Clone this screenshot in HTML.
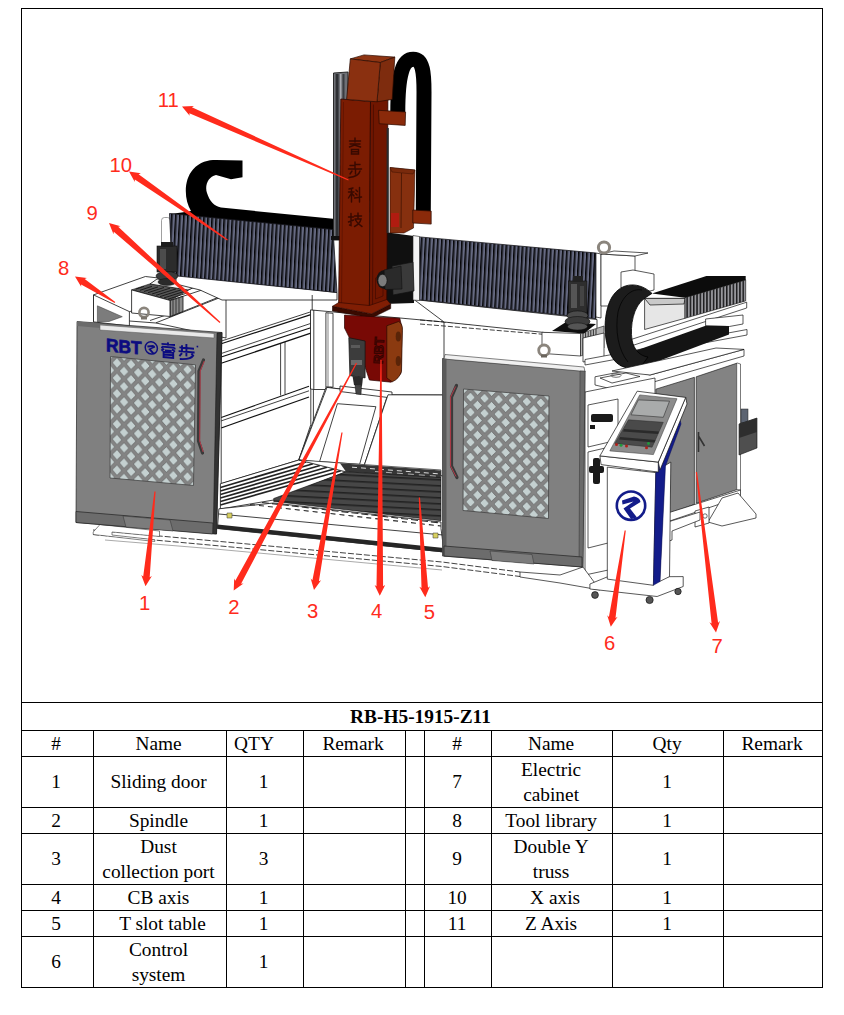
<!DOCTYPE html>
<html><head><meta charset="utf-8"><title>RB-H5-1915-Z11</title>
<style>
html,body{margin:0;padding:0;background:#fff;}
body{width:844px;height:1015px;position:relative;overflow:hidden;font-family:"Liberation Serif",serif;color:#000;}
.abs{position:absolute;left:0;top:0;}
.c{position:absolute;display:flex;align-items:center;justify-content:center;text-align:center;font-size:19.35px;line-height:25px;white-space:nowrap;}
.c span{display:block;position:relative;top:0px;}
.b{font-weight:bold;}
</style></head><body>
<svg class="abs" width="844" height="1015" viewBox="0 0 844 1015">
<defs>
<pattern id="bel" width="4.05" height="10" patternUnits="userSpaceOnUse" patternTransform="skewX(-3)"><rect width="4.05" height="10" fill="#666a82"/><rect x="0" width="1.45" height="10" fill="#050507"/><rect x="1.45" width="0.9" height="10" fill="#3a3c49"/></pattern>
<pattern id="belR" width="3.3" height="10" patternUnits="userSpaceOnUse"><rect width="3.3" height="10" fill="#97979c"/><rect x="0" width="1.5" height="10" fill="#1a1a1c"/></pattern>
<pattern id="dia" width="14.1" height="15.3" patternUnits="userSpaceOnUse" patternTransform="translate(117 363) skewY(5.5)">
 <rect width="14.1" height="15.3" fill="#848484"/>
 <path d="M7.05 2.45 L11.85 7.65 L7.05 12.850000000000001 L2.25 7.65Z M0 -5.2 L4.8 0 L0 5.2 L-4.8 0Z M14.1 -5.2 L18.9 0 L14.1 5.2 L9.3 0Z M0 10.100000000000001 L4.8 15.3 L0 20.5 L-4.8 15.3Z M14.1 10.100000000000001 L18.9 15.3 L14.1 20.5 L9.3 15.3Z " fill="#c4d0d0" stroke="#505050" stroke-width="0.6"/>
</pattern>
<pattern id="diaR" width="14.07" height="14.98" patternUnits="userSpaceOnUse" patternTransform="translate(470.5 397.2) skewY(4.6)">
 <rect width="14.07" height="14.98" fill="#848484"/>
 <path d="M7.035 2.3900000000000006 L11.835 7.49 L7.035 12.59 L2.2350000000000003 7.49Z M0 -5.1 L4.8 0 L0 5.1 L-4.8 0Z M14.07 -5.1 L18.87 0 L14.07 5.1 L9.27 0Z M0 9.88 L4.8 14.98 L0 20.08 L-4.8 14.98Z M14.07 9.88 L18.87 14.98 L14.07 20.08 L9.27 14.98Z " fill="#c4d0d0" stroke="#505050" stroke-width="0.6"/>
</pattern>
<pattern id="tslot" width="10" height="6" patternUnits="userSpaceOnUse" patternTransform="skewY(3)"><rect width="10" height="6" fill="#474747"/><rect y="0" width="10" height="1.6" fill="#222"/></pattern>
</defs>
<g id="frame" fill="#fff" stroke="#111" stroke-width="0.8" stroke-linejoin="round">
<!-- tool library big box (left top) -->
<polygon points="93.5,294.9 145.4,276.5 176,280 226,290 226,338 156,323 129.4,321 93.5,321.9"/>
<polygon points="93.5,294.9 129.4,311.6 129.4,326 93.5,321.9"/>
<polyline points="129.4,311.6 150,307" fill="none"/>
<polyline points="156,322.8 235,291.7" fill="none"/>
<polyline points="150,320.5 226,294.5" fill="none"/>
<polygon points="97.4,305.8 122.3,316.7 109,321.5 97.4,322" fill="#7c7c7c" stroke="#333" stroke-width="0.5"/>
<!-- inner tool magazine -->
<polygon points="131.6,289.9 154,282.5 192,288 170.3,300.5" fill="#555" stroke="#111" stroke-width="0.6"/>
<g stroke="#151515" stroke-width="0.9" fill="none"><path d="M136 289 l8 -2.6 M140 290.3 l12 -4 M144 291.5 l14 -4.6 M148 292.7 l16 -5.2 M152 294 l18 -5.8 M156 295.3 l20 -6.4 M160 296.6 l22 -7 M164 297.9 l22 -7 M168 299.2 l20 -6.5"/></g>
<polygon points="131.6,289.9 170.3,300.5 170.3,316.5 131.6,313"/>
<polygon points="170.3,300.5 223.6,282.8 223.6,295.2 170.3,316.5"/>
<polygon points="170.3,300.5 183,296.3 183,311.5 170.3,316.5" fill="#8a8a8a"/>
<g stroke="#222" stroke-width="0.8"><path d="M173 299.8 v15.6 M176 298.8 v15.4 M179 297.8 v15.2"/></g>
<polygon points="157,279 201,284.5 188,290 150,284" fill="#f4f4f4"/>
<!-- left Y beam lines (under X bellows) -->
<polygon points="176,274.5 337,292.5 337,300 222,300 200,290 176,284"/>
<!-- left wall beams -->
<polygon points="221.2,341.1 310.8,311.8 310.8,424.5 298.9,460 221.2,483.7"/>
<g fill="none" stroke="#111">
<polyline points="221.2,343.8 310.8,314.6" stroke-width="1.2"/>
<polyline points="221.2,353.5 310.8,323.4"/>
<polyline points="221.2,357 310.8,327.8" stroke-width="1.1"/>
<polyline points="221.2,363.3 310.8,333.1" stroke-width="1.2"/>
<polyline points="280.6,343.5 280.6,395.5"/><polyline points="285,342 285,394"/>
<polyline points="221.2,417.4 309,386.3" stroke-width="1.1"/>
<polyline points="221.2,420.9 309,390.8"/>
<polyline points="221.2,428 309,397" stroke-width="1.2"/>
<polyline points="313.4,312 313.4,424.5"/>
<polyline points="312.2,295 312.2,311.8"/>
</g>
<!-- back wall -->
<polygon points="310.5,309.9 444,322 444,395 388,394.8 327,387.4 325.4,389.5 313.8,389.5 310.5,389"/>
<polyline points="313.8,310 313.8,389.5" fill="none"/>
<polyline points="420,320 600,335" fill="none" stroke-dasharray="5 2"/>
<polyline points="420,324 600,339" fill="none" stroke-dasharray="5 2"/>
<polygon points="325.9,312.7 333,313.3 333,387.2 325.9,387.2"/><polyline points="328,313 328,387" fill="none" stroke="#333" stroke-width="0.6"/>
<!-- strut + chute -->
<polygon points="326,387.2 331.5,387.2 302.5,460.5 298.9,459.2"/>
<polygon points="327,387.4 387.7,394.8 364,465.9 298.9,460"/>
<polygon points="337.4,403.7 375.9,406.7 359.6,464.4 319.6,461.5"/>
<polygon points="340,386 392,392 392,398 340,391.5"/>
<!-- floor slats (left) -->
<polygon points="220.4,483.7 298.9,460 346,471.8 273.7,500 220.4,509"/>
<g fill="none" stroke-width="1.7" stroke="#222">
<polyline points="220.4,487.5 306,462"/><polyline points="220.4,491 313,463.8"/><polyline points="220.4,494.5 320,465.5"/><polyline points="220.4,498 327,467.3"/><polyline points="220.4,501.5 334,469"/><polyline points="220.4,505 341,470.7"/>
</g>
<!-- right interior wall -->
<polygon points="444,395 444,476 364,466 388,394.8"/>
<!-- T slot table -->
<polygon points="298.9,460 441,470 441,477.7 346,471.8" fill="#fff" stroke="#222" stroke-width="0.7"/>
<polygon points="340,463.2 441,470.6 441,478 346,471.8" fill="#363636" stroke="none"/>
<polyline points="352,467.2 441,474" fill="none" stroke="#ddd" stroke-width="1" stroke-dasharray="5 4"/>
<polyline points="375,471.5 441,476.5" fill="none" stroke="#ccc" stroke-width="0.8" stroke-dasharray="6 5"/>
<polygon points="346,471.8 441,477.7 441,520.7 273.7,501.4 273.7,498.5" fill="url(#tslot)" stroke="#111" stroke-width="0.6"/>
<!-- front rails -->

<polygon points="218.9,508.8 273.7,503 441,522 441,528.5 444,552 217.4,528.5"/>
<polyline points="218.9,514 443,535" fill="none"/>
<g id="hatchband" fill="none" stroke="#2a2a2a" stroke-width="1.1"><polyline points="262,502.5 441,523" stroke-dasharray="7 3"/><polyline points="250,504.5 441,526" stroke-dasharray="5 4"/></g>
<polygon points="217.4,524.4 444,548 444,552.4 217.4,528.8" fill="#262626" stroke="none"/>
<rect x="227" y="513" width="5" height="5" fill="#d8d060" stroke="#333" stroke-width="0.5"/>
<rect x="433" y="533" width="5" height="5" fill="#d8d060" stroke="#333" stroke-width="0.5"/>
<!-- base plinth lines -->
<polygon points="93,527 217,538 217,546 590,578 590,573 530,566 444,552 444,558 217,538" fill="none" stroke="none"/>
<polyline points="93,530 215,541 442,562 520,572" fill="none" stroke-dasharray="6 2"/>
<polyline points="93,534.5 215,545.5 442,566.5 520,576.5" fill="none" stroke-dasharray="6 2"/>
<polyline points="105,540 215,549 442,570" fill="none" stroke="#555" stroke-width="0.5"/>
<!-- right wall between back and right door (top beam under right bellows) -->
<polygon points="414,299.5 597,319.5 597,338 444,322"/>

<g id="slabL"><polygon points="100,524.5 159.5,531 159.5,536.5 112,532 112,535 154.8,539.8 154.8,541.5 93.2,534.5 93.2,532" fill="#fff" stroke="#333" stroke-width="0.6"/></g>

</g>
<g id="xaxis">
<!-- black cable chain behind X bellows -->
<path d="M242.5 160.6 L242.5 177.2 L231 179.3 L216 175 C208 176.5 204.5 186 207 193 C209.5 201 214 206 221 207.6 L333 218.8 L333 231 L170 214 C178 213 186 212 191 211 C184 200 183.5 180 193 169.5 C200 161.5 208 160 216 160 Z" fill="#000"/>
<!-- left motor cylinder -->
<rect x="161.5" y="217.5" width="9" height="34" rx="3" fill="#fff" stroke="#777" stroke-width="0.7"/>
<!-- X bellows left -->
<polygon points="169.5,213.5 333,229.5 337,292.5 172.5,275.5" fill="url(#bel)" stroke="#15151c" stroke-width="0.8"/>
<!-- X bellows right -->
<polygon points="419.3,236.9 596,253 596,318.7 419.3,299.8" fill="url(#bel)" stroke="#15151c" stroke-width="0.8"/>

<!-- left Y motor -->
<rect x="157" y="246" width="20" height="26" fill="#2c2c2c" stroke="#111" stroke-width="0.6"/>
<rect x="161" y="242" width="12" height="5" fill="#1c1c1c"/>
<rect x="160" y="249" width="6" height="20" fill="#4c4c4c"/>
<ellipse cx="167" cy="276" rx="11" ry="4.5" fill="#3a3a3a" stroke="#111" stroke-width="0.6"/>
<ellipse cx="167" cy="282" rx="9" ry="3.5" fill="#2a2a2a" stroke="#111" stroke-width="0.5"/>

</g>
<g id="zcol">
<!-- dark carriage area behind column -->
<polygon points="384,232 414,236 414,303 384,304" fill="#101010"/>
<!-- white bracket right -->
<polygon points="413,235.5 419.5,236.5 419.5,300.5 413,300" fill="#f4f4f4" stroke="#222" stroke-width="0.6"/>
<!-- grey rail left of column -->
<polygon points="333.5,73 348,72 348,240 333.5,240" fill="#6e7076" stroke="#1a1a1a" stroke-width="0.9"/>
<rect x="335.6" y="74" width="3" height="165" fill="#2e3034"/>
<rect x="340" y="74" width="1.4" height="165" fill="#a8aab0"/><rect x="342.5" y="74" width="2" height="40" fill="#3a3c40"/>
<rect x="331" y="236" width="10" height="4" fill="#111"/>
<!-- back carriage box (lighter brown) -->
<polygon points="390,167.5 415,170 413.5,228 404,233 390,233" fill="#86300f" stroke="#2a0a00" stroke-width="0.6"/>
<polygon points="390,167.5 415,170 413,174 392,172" fill="#7a2a0c" stroke="#2a0a00" stroke-width="0.4"/>
<line x1="401.5" y1="173" x2="401" y2="228" stroke="#3a1000" stroke-width="0.7"/>
<rect x="391" y="213" width="8" height="14" fill="#b01c10"/>
<!-- hose -->
<path d="M397.8 112 C397.8 75 402.5 59.3 413.2 59.3 C423.2 59.3 424 74 424 92 L423.3 212" fill="none" stroke="#000" stroke-width="15" stroke-linecap="butt"/>
<!-- hose brackets -->
<polygon points="412.8,210 431.2,211.1 431.2,224.1 412.8,223" fill="#8a2a0a" stroke="#2a0a00" stroke-width="0.7"/>
<!-- column -->
<polygon points="340.8,99 370.5,101.5 369.4,308.5 338.6,306.3" fill="#7b1c02" stroke="#2a0500" stroke-width="0.8" stroke-linejoin="round"/>
<polygon points="370.5,101.5 387.9,98.5 386.8,302 369.4,308.5" fill="#701600" stroke="#2a0500" stroke-width="0.8" stroke-linejoin="round"/>
<polygon points="378.5,110.3 405.6,112 405.2,125.4 379.2,123.7" fill="#8a2a0a" stroke="#2a0a00" stroke-width="0.7"/>
<line x1="373.5" y1="104.5" x2="372.5" y2="307" stroke="#3a0800" stroke-width="0.6"/>
<line x1="343.5" y1="102" x2="341.5" y2="305" stroke="#4a0d00" stroke-width="0.5"/>
<polygon points="375.5,278 383,276 383,296 375.5,299" fill="none" stroke="#3a0800" stroke-width="0.6"/>
<!-- top box -->
<polygon points="350.3,58.9 364,54.9 394.8,57.1 380.3,62.5" fill="#8e3412" stroke="#2a0a00" stroke-width="0.7" stroke-linejoin="round"/>
<polygon points="380.3,62.5 394.8,57.1 392.2,99.4 377,101.8" fill="#7e2c0e" stroke="#2a0a00" stroke-width="0.7" stroke-linejoin="round"/>
<polygon points="350.3,58.9 380.3,62.5 377,101.8 346.6,99.4" fill="#8a3010" stroke="#2a0a00" stroke-width="0.7" stroke-linejoin="round"/>
<rect x="386.6" y="128" width="2.2" height="105" fill="#2a2a2c"/>
<!-- pseudo glyphs 睿步科技 -->
<g stroke="#380900" stroke-width="1.45" fill="none" stroke-linecap="round">
<path d="M349.5 141 h11 M355 138 v4 M350 144 h10 M349.5 147 l5 -2 l6 2 M351.5 149.5 h7 v4.5 h-7z M351.5 151.8 h7"/>
<path d="M355 162 v6 M350 165.5 h5 M355 164.5 h5 M348.5 169 h13 M352 171 l-2 3 M355.5 170 v4 M360 171 c-1 4 -6 6 -11 6.5"/>
<path d="M349 189 l4 -1 M348.5 192 h5.5 M351.5 189 v13 M351.5 193 l-3 5 M351.5 193 l2.5 3 M356 190 l1.5 1.5 M355.5 193.5 l1.5 1.5 M354.5 198 l7 -1 M359.5 187.5 v14.5"/>
<path d="M348.5 217 h5 M351 213.5 v12 l-1.5 -0.5 M348.5 222 l5 -2 M354.5 216 h7 M358 213 v5 M355 219 h6 c-1 4 -3 6 -6.5 7.5 M355.5 220 c1.5 3 3.5 5 6.5 6.5"/>
</g>
<!-- motor (grey) -->
<polygon points="392,266 413,262 414,291 393,295" fill="#3a3a3a" stroke="#111" stroke-width="0.7"/>
<ellipse cx="384.5" cy="279.5" rx="8" ry="9.5" fill="#141414"/>
<polygon points="384,270 401,266 402,289 385,289.5" fill="#2a2a2a" stroke="#111" stroke-width="0.6"/>
<ellipse cx="382.5" cy="280.5" rx="4.6" ry="6.2" fill="#7c7c7c" stroke="#111" stroke-width="0.7"/>
<!-- base flange -->
<polygon points="332.5,306.3 371.6,313.9 390.7,304.1 390.7,308.6 371.6,318 332.5,311" fill="#3a0a00" stroke="#1a0300" stroke-width="0.6"/>
<polygon points="338.6,302.5 369.4,305.5 386.8,299.5 390.7,304.1 371.6,313.9 332.5,306.3" fill="#801e04" stroke="#2a0500" stroke-width="0.6"/>
<!-- lower head -->
<polygon points="344.5,315 399.8,318.2 402,328 400.9,373.5 391.1,382.2 369.4,380 365.1,367 349.9,338.8 344.5,328" fill="#780905" stroke="#2a0300" stroke-width="0.7" stroke-linejoin="round"/>
<path d="M386.8 325.8 L398.7 321.5 Q402.8 324 402.4 330.2 L401.5 371.4 Q399 379 392.2 381.8 L386.8 377.9Z" fill="#8b3a10" stroke="#2a0a00" stroke-width="0.7"/>
<ellipse cx="398.3" cy="336.5" rx="2.6" ry="5" fill="#5a2408"/><ellipse cx="398.3" cy="361" rx="2.6" ry="5" fill="#5a2408"/>
<text transform="translate(382.5 364) rotate(-87)" font-family="Liberation Sans, sans-serif" font-weight="bold" font-size="13" fill="#5a0603" stroke="#350300" stroke-width="1">RBT</text>
<!-- spindle -->
<polygon points="348.8,337.7 365.1,341 365.1,377.9 349.9,375.7" fill="#3c3c3c" stroke="#111" stroke-width="0.7"/>
<rect x="351" y="345" width="9" height="3" fill="#5a5a5a"/><rect x="351" y="360" width="11" height="5" fill="#6a6a6a"/>
<polygon points="352.5,376 363,377.5 362,386 354,385" fill="#2a2a2a"/>
<polygon points="355,385 361.5,386 361,394.5 356,394" fill="#444" stroke="#111" stroke-width="0.5"/>

</g>
<g id="right">
<!-- end plate + motor mount box of X axis -->
<g fill="#fff" stroke="#111" stroke-width="0.7" stroke-linejoin="round">
<polygon points="596,253 601,254 601,318 596,317"/>
<polygon points="601,254 635,256 635,300 612,306 601,306"/>
<polygon points="601,254 614,251 648,253 635,256"/>
<polygon points="621,272 633,270 654,274 654,290 642,293 621,288"/>
</g>
<circle cx="604" cy="247.5" r="5.6" fill="none" stroke="#8b857d" stroke-width="3"/>

<!-- Y motor right -->
<polygon points="542,332.3 580.5,333.5 580.5,356 542,353.4" fill="#fff" stroke="#111" stroke-width="0.7"/>
<polygon points="580.5,333.5 604,326 604,348 580.5,356" fill="#b5b5b5" stroke="#111" stroke-width="0.6"/>
<g stroke="#222" stroke-width="0.9"><path d="M583 333 v21.8 M585.6 332.2 v21.6 M588.2 331.4 v21.4 M590.8 330.6 v21.2 M593.4 329.8 v21 M596 329 v20.8"/></g>
<polygon points="552,331 566,322 596,324 584,333.5" fill="#0e0e0e"/>
<rect x="568.5" y="281" width="18.5" height="32" fill="#2e2e2e" stroke="#111" stroke-width="0.6"/>
<rect x="571" y="284" width="6" height="24" fill="#555"/><rect x="580" y="286" width="4" height="20" fill="#444"/>
<rect x="573" y="276" width="10" height="6" fill="#222"/>
<ellipse cx="577.5" cy="315.5" rx="10.5" ry="4.6" fill="#4a4a4a" stroke="#111" stroke-width="0.6"/>
<ellipse cx="577.5" cy="321.5" rx="12.5" ry="5" fill="#3c3c3c" stroke="#111" stroke-width="0.6"/>
<ellipse cx="577.5" cy="326.5" rx="10" ry="3.6" fill="#555" stroke="#111" stroke-width="0.5"/>
<!-- Y rails white structures -->
<g fill="#fff" stroke="#111" stroke-width="0.7" stroke-linejoin="round">
<polygon points="583,338 604,333 604,358 583,362"/>
<polygon points="585,359.5 747,329.5 747,335 585,365"/>
<polygon points="631,339.5 746.7,302.2 746.7,308 631,346"/>
<polygon points="644.6,298.4 685,298.4 685,318.3 644.6,329.5" fill="#e6e6e6"/>
<polygon points="644.6,298.4 685,298.4 684,304 650,305" fill="#c9c9c9"/>
<polygon points="705.6,319 743,315 743,324 729.3,326.5 705.6,325.8"/>
</g>
<!-- Y bellows (grey) front face -->
<polygon points="685,297.7 745.7,279.8 745.7,300.9 685,318.3" fill="url(#belR)" stroke="#111" stroke-width="0.6"/>
<!-- top black face -->
<polygon points="652,293.4 706.4,276 745.7,276 745.7,280 685,297.7" fill="#0c0c0c"/>
<!-- lower black run -->
<polygon points="632,352 705.6,325.8 729,326 729,334.5 640,368 620,366" fill="#141414"/>
<!-- cable chain C -->
<path d="M652 293.4 C640 282 622 281 612 297 C602 314 603 346 614 360 C620 368 632 370 640 368 L648 357 C640 356 634 350 632 340 C630 326 633 306 645 298 Z" fill="#1c1c1c" stroke="#000" stroke-width="0.8"/>
<path d="M642 290 C632 288 622 296 618 312 C615 330 618 350 628 362" fill="none" stroke="#000" stroke-width="0.7"/>
<!-- trays -->
<g fill="#fff" stroke="#111" stroke-width="0.7" stroke-linejoin="round">
<polygon points="595,376.8 630,370 650,375 744,349.4 744,356 650,383 612,389 595,385"/>
<polygon points="612,371 716,348 744,349.4 650,375"/>
<polygon points="600,378 626,373 640,376.5 612,383"/>
</g>
<ellipse cx="616" cy="375.5" rx="5" ry="1.8" fill="none" stroke="#111" stroke-width="0.6"/>
<!-- machine right-side body -->
<g fill="#fff" stroke="#111" stroke-width="0.7" stroke-linejoin="round">
<polygon points="585,392 655,378 655,560 585,575"/>
<polygon points="588,405 618,399 618,440 588,447"/>
<polygon points="588,452 640,440 640,535 588,548"/>
</g>
<g fill="#1a1a1a"><rect x="591" y="414" width="22" height="8" rx="2"/><rect x="590" y="425" width="5" height="4"/><rect x="593" y="458" width="7" height="26" rx="2"/><rect x="589" y="466" width="15" height="7" rx="2"/></g>
<!-- cabinet -->
<polygon points="655.8,389.2 694.4,377.3 694.4,504.4 660,517" fill="#838383" stroke="#222" stroke-width="0.7"/>
<polygon points="696.2,376.8 737.2,363.1 737.2,489.5 696.2,503.2" fill="#838383" stroke="#222" stroke-width="0.7"/>
<path d="M737.2 363 L740.5 364 L740.5 490 L737.2 489.5" fill="#fff" stroke="#222" stroke-width="0.6"/>
<path d="M698.5 432 v20 M698.5 436 l6 10" fill="none" stroke="#333" stroke-width="1.6"/>
<!-- cabinet base and feet -->
<g fill="#fff" stroke="#111" stroke-width="0.7" stroke-linejoin="round">
<polygon points="655,517 740.5,490 740.5,497 655,526"/>
<polygon points="722,498 738,493 756,514 756,518 722,526 708,522"/>
<polygon points="695,511 709,507 709,523 695,527"/>
<polygon points="655,526 700,512 700,520 672,531 672,540 655,546"/>
<polygon points="583,567 600,590 560,583 520,577 520,572 560,575"/>
</g>
<circle cx="705" cy="516" r="2.2" fill="none" stroke="#111" stroke-width="0.6"/>
<!-- lube pump -->
<rect x="741" y="409" width="7" height="14" fill="#5c6472" stroke="#222" stroke-width="0.5"/>
<polygon points="739,424 757,418 757,448 739,455" fill="#4f4f4f" stroke="#111" stroke-width="0.6"/>
<polygon points="739,424 757,418 757,432 739,438" fill="#2e2e2e"/>

</g>
<g id="doors">
<!-- LEFT DOOR -->
<g stroke="#222" stroke-width="0.7" stroke-linejoin="round">
<polygon points="77,321.5 222,332.5 216.5,534 76,522.5" fill="#808080"/>
<!-- top lighter lip -->
<polygon points="100,325 214,333.5 214,338 100,330" fill="#e9e9e9" stroke="#555" stroke-width="0.5"/>
<polygon points="77,321.5 100,323.5 100,328 77,326" fill="#6b6b6b" stroke="none"/>
<!-- right edge thickness -->
<polygon points="217,333 222,332.5 216.5,534 213.2,533.7" fill="#333" stroke="#111" stroke-width="0.5"/>
<!-- bottom skirt -->
<polygon points="76,511.5 213,523 212.5,534 76,522.5" fill="#6c6c6c"/>
<polygon points="123,516 170,520 173,531 126,527" fill="#7c7c7c" stroke="#333" stroke-width="0.5"/>
<!-- diamond window -->
<polygon points="110.5,356.5 195.5,364.8 193.5,485.5 110,478" fill="url(#dia)" stroke="#444" stroke-width="0.8"/>
<!-- handle -->
<path d="M203.5 360 L199 371 L198.5 441 L202.5 453" fill="none" stroke="#3a3a3a" stroke-width="3.2" stroke-linecap="round"/>
<path d="M204.3 361 L200.2 371 L199.7 441 L203.2 452" fill="none" stroke="#c23a4a" stroke-width="0.9"/>
</g>
<!-- logo -->
<g fill="#0c0c80" stroke="none" transform="translate(106 338.4) skewY(5)">
<text x="0" y="12.9" font-family="Liberation Sans, sans-serif" font-weight="bold" font-size="18.4" textLength="35.6" lengthAdjust="spacingAndGlyphs" stroke="#0c0c80" stroke-width="0.7">RBT</text>
<circle cx="45.3" cy="5.6" r="6.1" fill="none" stroke="#0c0c80" stroke-width="1.5"/>
<path d="M41.3 3.6 L47 2.4 Q49.4 2.8 49.2 4.8 L45 7 L48.4 10.6 L46.6 11.4 L42.2 6.8 L46.6 4.6 L41.5 5.4Z"/>
<g stroke="#0c0c80" stroke-width="1.9" fill="none" stroke-linecap="butt">
<path d="M55.5 0.6 h13.5 M62 -1.4 v3.6 M56 3.3 h12.6 M56 3.3 v1.8 M68.6 3.3 v1.8 M58 5.2 l-2.6 2.2 M66 5.2 l3 2.2 M59 6.8 h6.6 M57.6 8.6 h9.6 v5 h-9.6z M57.6 11 h9.6"/>
<path transform="translate(-3.6 0)" d="M77 2.6 h14.6 M84 -1.4 v7.6 M79.6 0.2 v5.8 M84.4 3 h0 M76.2 6.4 h16 M84 6.4 v4.6 M79.6 8 l-2.6 3.4 M89 7.8 l2.4 2.4 M91 9 c-1.6 3.6 -7 5 -13.6 5.2"/>
</g>
<rect x="90.6" y="-0.6" width="1.6" height="1.6"/>
</g>

<!-- RIGHT DOOR -->
<g stroke="#222" stroke-width="0.7" stroke-linejoin="round">
<polygon points="442.5,358.5 585,371 583,567 442.5,556" fill="#808080"/>
<polygon points="445,354.5 584,367 585,371.5 444,359" fill="#f0f0f0" stroke="#333" stroke-width="0.6"/>
<polygon points="442.5,358.5 446.5,358.8 446.5,556.5 442.5,556" fill="#5a5a5a" stroke="none"/>
<polygon points="580,371 585,371 583,567 579,566.5" fill="#6a6a6a" stroke="#222" stroke-width="0.4"/>
<polygon points="444,546 582,557 582,567 444,556" fill="#6c6c6c"/>
<polygon points="490,551 532,554.5 534,564 492,560.5" fill="#7c7c7c" stroke="#333" stroke-width="0.5"/>
<polygon points="463.5,389 549,396 548.5,518.5 463,510.5" fill="url(#diaR)" stroke="#444" stroke-width="0.8"/>
<path d="M456.5 385.5 L451.5 397 L451.5 466 L457 477.5" fill="none" stroke="#3a3a3a" stroke-width="3.2" stroke-linecap="round"/>
<path d="M455.6 386.5 L450.6 397 L450.6 466 L456 476.5" fill="none" stroke="#c23a4a" stroke-width="0.9"/>
</g>

<g id="eyeL"><circle cx="144" cy="312.5" r="4.6" fill="none" stroke="#8b857d" stroke-width="2.6"/><rect x="141" y="316.5" width="6" height="3" fill="#7a746c"/></g>
<g id="eyeR"><circle cx="544" cy="350.3" r="5.3" fill="#fff" stroke="#8b857d" stroke-width="2.8"/><rect x="541" y="354.5" width="6" height="3" fill="#6a645c"/></g>

</g>
<g id="ped">
<g stroke="#111" stroke-width="0.7" stroke-linejoin="round">
<!-- base -->
<polygon points="589.9,584 607,577 683.2,576.6 683.2,586.5 657.1,596.5 589.9,589" fill="#fff"/>
<circle cx="595" cy="595" r="3.4" fill="#555"/><circle cx="649.6" cy="600" r="3.6" fill="#555"/><circle cx="678" cy="591.5" r="3.2" fill="#555"/>
<!-- body -->
<polygon points="664.6,465.8 670.8,462.1 669.5,576.6 659.6,581.5" fill="#fff"/>
<polygon points="607.3,467.1 655.8,472.6 653.4,585.3 607.3,579.1" fill="#fff"/>
<polygon points="679.5,417 681,424 665.5,466 660,581.5 653.4,585.3 655.8,473 658.5,463" fill="#131c8a" stroke="#0a0f55" stroke-width="0.5"/>
<!-- head -->
<polygon points="685.7,397.4 687,404 660,470 658.3,462.1" fill="#fff"/>
<polygon points="599.9,455.9 658.3,462.1 658.3,472.1 601.1,464.6" fill="#fff"/>
<polygon points="637.2,391.2 685.7,397.4 658.3,462.1 599.9,455.9" fill="#fff"/>
<polygon points="639.7,394.9 677,398.7 653.4,454.6 609.8,450.9" fill="#8c8c8c" stroke="#333" stroke-width="0.5"/>
<polygon points="638.4,399.9 669.5,401.2 663.3,417.3 631,414.8" fill="#a9abab" stroke="#333" stroke-width="0.6"/>
<polygon points="628.5,419.8 663.3,422.3 652.1,447.2 614.8,443.4" fill="#4a4a4a" stroke="#222" stroke-width="0.4"/>
<polygon points="624,429 659,431.5 658,434 623,431.5" fill="#2a2a2a" stroke="none"/>
<polygon points="620,437 655.5,440 654.5,442.5 619,439.5" fill="#2a2a2a" stroke="none"/>
<circle cx="616.5" cy="444.5" r="1.5" fill="#b0201a" stroke="none"/><circle cx="621" cy="445.3" r="1.5" fill="#1f9a3a" stroke="none"/><circle cx="626.5" cy="446" r="1.5" fill="#b0201a" stroke="none"/><circle cx="646.5" cy="447.8" r="1.5" fill="#b0201a" stroke="none"/><circle cx="648.5" cy="443.5" r="1.4" fill="#1f9a3a" stroke="none"/>
</g>
<circle cx="631" cy="505.7" r="14.2" fill="#fff" stroke="#131c8a" stroke-width="2.6"/>
<path d="M622 500.5 L634 496.5 Q640 497.5 640.5 502 L630 508.5 L637 517.5 L631 519 L623.5 508.5 L633.5 501.5 L622.5 504.5Z" fill="#131c8a"/>

</g>
<g id="arrows" fill="#ff2b1c">
<polygon points="154.4,491.4 143.2,576.6 141.3,575.0 145.5,586.3 151.9,576.1 149.7,577.3 155.6,491.6"/>
<polygon points="356.0,362.7 235.3,580.7 234.2,578.5 233.7,590.5 243.5,583.5 241.1,583.8 357.0,363.3"/>
<polygon points="341.4,432.4 312.4,580.2 310.7,578.4 314.0,590.0 321.1,580.3 318.9,581.3 342.6,432.6"/>
<polygon points="380.4,360.0 376.5,586.3 374.6,584.9 379.8,595.7 385.2,584.9 383.1,586.3 381.6,360.0"/>
<polygon points="418.8,497.6 421.5,588.1 419.4,586.8 425.3,597.3 430.0,586.2 428.0,587.7 420.0,497.6"/>
<polygon points="624.6,530.4 608.9,616.9 607.2,615.2 610.8,626.7 617.6,616.8 615.5,617.9 625.8,530.6"/>
<polygon points="695.8,472.1 711.6,623.5 709.4,622.3 716.0,632.4 720.0,621.0 718.1,622.7 697.0,471.9"/>
<polygon points="115.3,302.0 84.7,278.9 86.9,277.9 75.0,276.5 81.2,286.8 81.1,284.4 114.7,303.0"/>
<polygon points="220.4,322.1 118.2,226.8 120.6,226.3 109.0,223.0 113.5,234.2 113.8,231.7 219.6,322.9"/>
<polygon points="227.8,239.5 138.6,174.2 140.9,173.3 129.0,171.5 134.8,182.0 134.8,179.6 227.2,240.5"/>
<polygon points="348.7,179.5 191.9,107.3 194.0,106.0 182.0,106.5 189.7,115.7 189.3,113.3 348.3,180.5"/>
<text x="144.6" y="609.5" text-anchor="middle" font-family="Liberation Sans, sans-serif" font-size="20.3">1</text>
<text x="233.79999999999998" y="613.6" text-anchor="middle" font-family="Liberation Sans, sans-serif" font-size="20.3">2</text>
<text x="312.7" y="618.0" text-anchor="middle" font-family="Liberation Sans, sans-serif" font-size="20.3">3</text>
<text x="376.7" y="618.0" text-anchor="middle" font-family="Liberation Sans, sans-serif" font-size="20.3">4</text>
<text x="429.3" y="619.3000000000001" text-anchor="middle" font-family="Liberation Sans, sans-serif" font-size="20.3">5</text>
<text x="609.7" y="650.1" text-anchor="middle" font-family="Liberation Sans, sans-serif" font-size="20.3">6</text>
<text x="717.2" y="652.6" text-anchor="middle" font-family="Liberation Sans, sans-serif" font-size="20.3">7</text>
<text x="63.7" y="275.1" text-anchor="middle" font-family="Liberation Sans, sans-serif" font-size="20.3">8</text>
<text x="92.2" y="220.1" text-anchor="middle" font-family="Liberation Sans, sans-serif" font-size="20.3">9</text>
<text x="120.7" y="171.6" text-anchor="middle" font-family="Liberation Sans, sans-serif" font-size="20.3">10</text>
<text x="168.2" y="107.1" text-anchor="middle" font-family="Liberation Sans, sans-serif" font-size="20.3">11</text>
</g>
</svg>

<svg class="abs" width="844" height="1015" viewBox="0 0 844 1015" shape-rendering="crispEdges" fill="#000"><rect x="21" y="8" width="802" height="1"/><rect x="21" y="702" width="802" height="1"/><rect x="21" y="730" width="802" height="1"/><rect x="21" y="756" width="802" height="1"/><rect x="21" y="807" width="802" height="1"/><rect x="21" y="833" width="802" height="1"/><rect x="21" y="884" width="802" height="1"/><rect x="21" y="910" width="802" height="1"/><rect x="21" y="936" width="802" height="1"/><rect x="21" y="987" width="802" height="1"/><rect x="21" y="8" width="1" height="980"/><rect x="822" y="8" width="1" height="980"/><rect x="93" y="730" width="1" height="258"/><rect x="226" y="730" width="1" height="258"/><rect x="303" y="730" width="1" height="258"/><rect x="405" y="730" width="1" height="258"/><rect x="424" y="730" width="1" height="258"/><rect x="491" y="730" width="1" height="258"/><rect x="612" y="730" width="1" height="258"/><rect x="723" y="730" width="1" height="258"/></svg>
<div class="c b" style="left:20.5px;top:703px;width:800px;height:27px">RB-H5-1915-Z11</div><div class="c" style="left:20.5px;top:731px;width:71.0px;height:25px"><span>#</span></div><div class="c" style="left:92.5px;top:731px;width:132.0px;height:25px"><span>Name</span></div><div class="c" style="left:216.0px;top:731px;width:76.0px;height:25px"><span>QTY</span></div><div class="c" style="left:302.5px;top:731px;width:101.0px;height:25px"><span>Remark</span></div><div class="c" style="left:424.1px;top:731px;width:66.0px;height:25px"><span>#</span></div><div class="c" style="left:491.1px;top:731px;width:120.0px;height:25px"><span>Name</span></div><div class="c" style="left:612.1px;top:731px;width:110.0px;height:25px"><span>Qty</span></div><div class="c" style="left:723.1px;top:731px;width:98.0px;height:25px"><span>Remark</span></div><div class="c" style="left:20.5px;top:756px;width:71.0px;height:50px"><span>1</span></div><div class="c" style="left:92.5px;top:756px;width:132.0px;height:50px"><span>Sliding door</span></div><div class="c" style="left:225.5px;top:756px;width:76.0px;height:50px"><span>1</span></div><div class="c" style="left:424.1px;top:756px;width:66.0px;height:50px"><span>7</span></div><div class="c" style="left:491.1px;top:757px;width:120.0px;height:50px"><span>Electric<br>cabinet</span></div><div class="c" style="left:612.1px;top:756px;width:110.0px;height:50px"><span>1</span></div><div class="c" style="left:20.5px;top:808px;width:71.0px;height:25px"><span>2</span></div><div class="c" style="left:92.5px;top:808px;width:132.0px;height:25px"><span>Spindle</span></div><div class="c" style="left:225.5px;top:808px;width:76.0px;height:25px"><span>1</span></div><div class="c" style="left:424.1px;top:808px;width:66.0px;height:25px"><span>8</span></div><div class="c" style="left:491.1px;top:808px;width:120.0px;height:25px"><span>Tool library</span></div><div class="c" style="left:612.1px;top:808px;width:110.0px;height:25px"><span>1</span></div><div class="c" style="left:20.5px;top:833px;width:71.0px;height:50px"><span>3</span></div><div class="c" style="left:92.5px;top:834px;width:132.0px;height:50px"><span>Dust<br>collection port</span></div><div class="c" style="left:225.5px;top:833px;width:76.0px;height:50px"><span>3</span></div><div class="c" style="left:424.1px;top:833px;width:66.0px;height:50px"><span>9</span></div><div class="c" style="left:491.1px;top:834px;width:120.0px;height:50px"><span>Double Y<br>truss</span></div><div class="c" style="left:612.1px;top:833px;width:110.0px;height:50px"><span>1</span></div><div class="c" style="left:20.5px;top:885px;width:71.0px;height:25px"><span>4</span></div><div class="c" style="left:92.5px;top:885px;width:132.0px;height:25px"><span>CB axis</span></div><div class="c" style="left:225.5px;top:885px;width:76.0px;height:25px"><span>1</span></div><div class="c" style="left:424.1px;top:885px;width:66.0px;height:25px"><span>10</span></div><div class="c" style="left:495.1px;top:885px;width:120.0px;height:25px"><span>X axis</span></div><div class="c" style="left:612.1px;top:885px;width:110.0px;height:25px"><span>1</span></div><div class="c" style="left:20.5px;top:911px;width:71.0px;height:25px"><span>5</span></div><div class="c" style="left:96.5px;top:911px;width:132.0px;height:25px"><span>T slot table</span></div><div class="c" style="left:225.5px;top:911px;width:76.0px;height:25px"><span>1</span></div><div class="c" style="left:424.1px;top:911px;width:66.0px;height:25px"><span>11</span></div><div class="c" style="left:491.1px;top:911px;width:120.0px;height:25px"><span>Z Axis</span></div><div class="c" style="left:612.1px;top:911px;width:110.0px;height:25px"><span>1</span></div><div class="c" style="left:20.5px;top:936px;width:71.0px;height:50px"><span>6</span></div><div class="c" style="left:92.5px;top:937px;width:132.0px;height:50px"><span>Control<br>system</span></div><div class="c" style="left:225.5px;top:936px;width:76.0px;height:50px"><span>1</span></div>
</body></html>
